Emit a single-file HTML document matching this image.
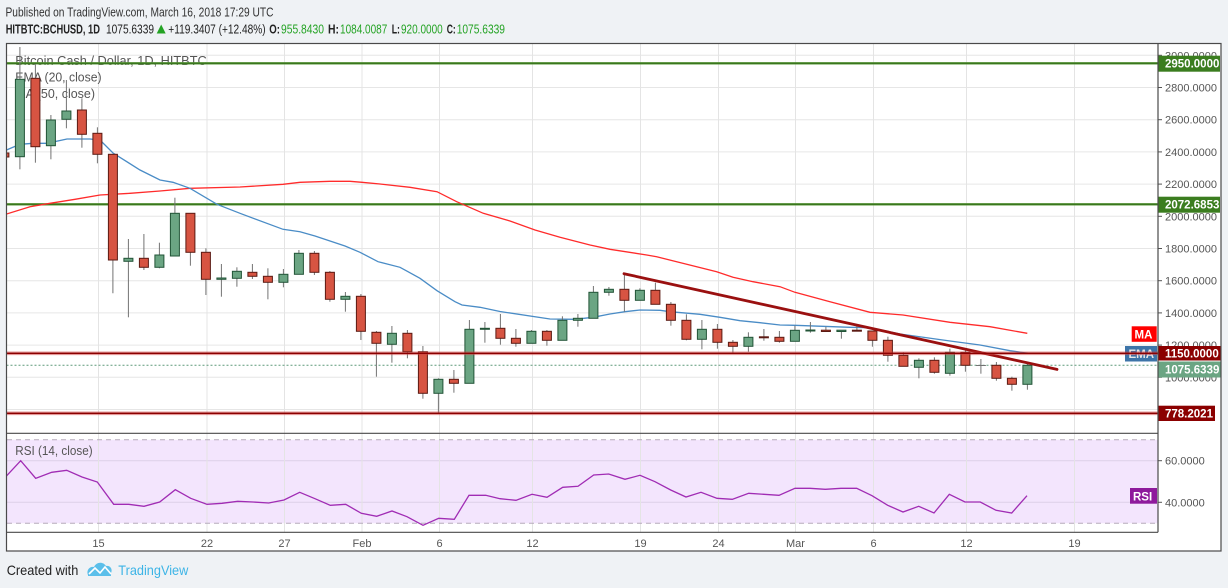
<!DOCTYPE html>
<html><head><meta charset="utf-8"><style>
html,body{margin:0;padding:0;background:#eff2f5;}
svg{display:block;}
text{font-family:"Liberation Sans",sans-serif;}
</style></head><body>
<svg width="1228" height="588" viewBox="0 0 1228 588" xmlns="http://www.w3.org/2000/svg">
<rect x="0" y="0" width="1228" height="588" fill="#eff2f5"/>
<!-- header -->
<text x="5.5" y="16.5" font-size="13" fill="#333" textLength="268" lengthAdjust="spacingAndGlyphs">Published on TradingView.com, March 16, 2018 17:29 UTC</text>
<g font-size="13">
<text x="5.7" y="33.5" font-weight="bold" fill="#222" textLength="94.3" lengthAdjust="spacingAndGlyphs">HITBTC:BCHUSD, 1D</text>
<text x="106" y="33.5" fill="#222" textLength="48" lengthAdjust="spacingAndGlyphs">1075.6339</text>
<polygon points="156.7,33.5 165.7,33.5 161.2,24.5" fill="#24a324"/>
<text x="168.3" y="33.5" fill="#222" textLength="97.4" lengthAdjust="spacingAndGlyphs">+119.3407 (+12.48%)</text>
<text x="269.3" y="33.5" font-weight="bold" fill="#222" textLength="10.7" lengthAdjust="spacingAndGlyphs">O:</text>
<text x="281" y="33.5" fill="#24a324" textLength="43" lengthAdjust="spacingAndGlyphs">955.8430</text>
<text x="328" y="33.5" font-weight="bold" fill="#222" textLength="11" lengthAdjust="spacingAndGlyphs">H:</text>
<text x="340" y="33.5" fill="#24a324" textLength="47.3" lengthAdjust="spacingAndGlyphs">1084.0087</text>
<text x="391.7" y="33.5" font-weight="bold" fill="#222" textLength="8.3" lengthAdjust="spacingAndGlyphs">L:</text>
<text x="401" y="33.5" fill="#24a324" textLength="41.7" lengthAdjust="spacingAndGlyphs">920.0000</text>
<text x="446.7" y="33.5" font-weight="bold" fill="#222" textLength="9" lengthAdjust="spacingAndGlyphs">C:</text>
<text x="456.7" y="33.5" fill="#24a324" textLength="48.3" lengthAdjust="spacingAndGlyphs">1075.6339</text>
</g>

<!-- chart area -->
<rect x="6.5" y="43.5" width="1214.5" height="507.5" fill="#fff"/>

<defs>
<clipPath id="mainclip"><rect x="6.5" y="43.5" width="1151.5" height="389.5"/></clipPath>
<clipPath id="rsiclip"><rect x="6.5" y="433.5" width="1151.5" height="99"/></clipPath>
</defs>

<!-- RSI fill -->
<rect x="7" y="439.8" width="1150.5" height="83.5" fill="#f3e5fd"/>

<!-- horizontal grid main -->
<g stroke="#e6e6e6" stroke-width="1">
<line x1="6.5" y1="55.3" x2="1158" y2="55.3"/>
<line x1="6.5" y1="87.5" x2="1158" y2="87.5"/>
<line x1="6.5" y1="119.7" x2="1158" y2="119.7"/>
<line x1="6.5" y1="151.9" x2="1158" y2="151.9"/>
<line x1="6.5" y1="184.1" x2="1158" y2="184.1"/>
<line x1="6.5" y1="216.3" x2="1158" y2="216.3"/>
<line x1="6.5" y1="248.5" x2="1158" y2="248.5"/>
<line x1="6.5" y1="280.7" x2="1158" y2="280.7"/>
<line x1="6.5" y1="312.9" x2="1158" y2="312.9"/>
<line x1="6.5" y1="345.1" x2="1158" y2="345.1"/>
<line x1="6.5" y1="377.3" x2="1158" y2="377.3"/>
<line x1="6.5" y1="409.5" x2="1158" y2="409.5"/>
</g>
<!-- RSI grid -->
<g stroke="#ddd0e8" stroke-width="1">
<line x1="6.5" y1="460.7" x2="1158" y2="460.7"/>
<line x1="6.5" y1="502.3" x2="1158" y2="502.3"/>
</g>
<!-- vertical grid -->
<g stroke="#e4e4e4" stroke-width="1">
<line x1="98.5" y1="43.5" x2="98.5" y2="532.5"/>
<line x1="207" y1="43.5" x2="207" y2="532.5"/>
<line x1="284.5" y1="43.5" x2="284.5" y2="532.5"/>
<line x1="362" y1="43.5" x2="362" y2="532.5"/>
<line x1="439.5" y1="43.5" x2="439.5" y2="532.5"/>
<line x1="532.5" y1="43.5" x2="532.5" y2="532.5"/>
<line x1="640.5" y1="43.5" x2="640.5" y2="532.5"/>
<line x1="718.5" y1="43.5" x2="718.5" y2="532.5"/>
<line x1="795.5" y1="43.5" x2="795.5" y2="532.5"/>
<line x1="873.5" y1="43.5" x2="873.5" y2="532.5"/>
<line x1="966.5" y1="43.5" x2="966.5" y2="532.5"/>
<line x1="1074.5" y1="43.5" x2="1074.5" y2="532.5"/>
</g>
<!-- RSI dashed bounds -->
<g stroke="#b5aabb" stroke-width="1" stroke-dasharray="5,4">
<line x1="7" y1="439.8" x2="1157.5" y2="439.8"/>
<line x1="7" y1="523.3" x2="1157.5" y2="523.3"/>
</g>

<!-- legend text -->
<g font-size="13" fill="#555">
<text x="15.3" y="65" textLength="191.4" lengthAdjust="spacingAndGlyphs">Bitcoin Cash / Dollar, 1D, HITBTC</text>
<text x="15.3" y="81.5" textLength="86.3" lengthAdjust="spacingAndGlyphs">EMA (20, close)</text>
<text x="15.3" y="98" textLength="79.7" lengthAdjust="spacingAndGlyphs">MA (50, close)</text>
<text x="15.3" y="455" textLength="77.3" lengthAdjust="spacingAndGlyphs">RSI (14, close)</text>
</g>

<g clip-path="url(#mainclip)">
<!-- horizontal level lines -->
<line x1="6.5" y1="63.3" x2="1158" y2="63.3" stroke="#5a9a3a" stroke-width="2.4"/>
<line x1="6.5" y1="63.3" x2="1158" y2="63.3" stroke="#2f6b14" stroke-width="1"/>
<line x1="6.5" y1="204.3" x2="1158" y2="204.3" stroke="#5a9a3a" stroke-width="2.4"/>
<line x1="6.5" y1="204.3" x2="1158" y2="204.3" stroke="#2f6b14" stroke-width="1"/>
<line x1="6.5" y1="365.3" x2="1158" y2="365.3" stroke="#5e9a7a" stroke-width="1" stroke-dasharray="2,2"/>

<!-- MA -->
<polyline fill="none" stroke="#ff2b2b" stroke-width="1.3" points="6.5,214 30,206.7 50,203.3 75,199.3 100,195 130,193.3 160,191 190,188.3 240,187 283,184.3 300,182.3 330,181.3 350,181.3 362,182.3 380,184 410,187.3 437,191.7 456.7,201.7 483.3,213.3 510,221 535,230 560,237.3 590,245 610,249.3 646.7,255 656.7,256.7 686.7,264.3 716.7,271.7 733,277.3 753,281.7 780,286.7 795,292.3 830,301.7 870,312.3 903,315 950,322.3 990,326.7 1027.3,333.3"/>
<!-- EMA -->
<polyline fill="none" stroke="#4a8cc6" stroke-width="1.3" points="6.5,150 20,144.3 33,143.3 47,143.3 67,139 90,139 100,140 113,153 140,170 160,180 173,182.3 190,188.3 217,204.3 240,213.3 283,229.3 300,231.7 315,236 345,246 360,252.3 378,261.7 400,267.3 408,271.7 420,278.3 437,290.7 455,301.7 462,305 480,307.3 500,311.5 550,319 575,319.3 593,317.3 610,314 625,311.7 640,310 660,310.3 670,311.7 700,314.3 720,317.3 740,320.7 760,322.7 780,325 795,325.3 850,327.3 870,327.7 900,334 950,341 980,345 1010,350.7 1028,353.3"/>

<!-- candles -->
<g transform="translate(-0.6,0)">
<g stroke="#737373" stroke-width="1">
<line x1="5" y1="150" x2="5" y2="160"/>
<line x1="20.5" y1="47" x2="20.5" y2="169.3"/>
<line x1="36" y1="64" x2="36" y2="162.7"/>
<line x1="51.5" y1="115" x2="51.5" y2="159.3"/>
<line x1="67" y1="80" x2="67" y2="128.3"/>
<line x1="82.5" y1="98.3" x2="82.5" y2="147.7"/>
<line x1="98" y1="127.3" x2="98" y2="163.3"/>
<line x1="113.5" y1="154.3" x2="113.5" y2="293.3"/>
<line x1="129" y1="239" x2="129" y2="317.3"/>
<line x1="144.5" y1="234" x2="144.5" y2="270"/>
<line x1="160" y1="242.7" x2="160" y2="268.3"/>
<line x1="175.5" y1="197.7" x2="175.5" y2="256"/>
<line x1="191" y1="213.3" x2="191" y2="265.7"/>
<line x1="206.5" y1="248.3" x2="206.5" y2="295"/>
<line x1="222" y1="264" x2="222" y2="296.7"/>
<line x1="237.5" y1="267.3" x2="237.5" y2="286.7"/>
<line x1="253" y1="264" x2="253" y2="279"/>
<line x1="268.5" y1="268.3" x2="268.5" y2="299.3"/>
<line x1="284" y1="269" x2="284" y2="287.3"/>
<line x1="299.5" y1="250" x2="299.5" y2="274.3"/>
<line x1="315" y1="251" x2="315" y2="275"/>
<line x1="330.5" y1="271" x2="330.5" y2="301.7"/>
<line x1="346" y1="292" x2="346" y2="311.7"/>
<line x1="361.5" y1="294" x2="361.5" y2="340"/>
<line x1="377" y1="331" x2="377" y2="376.7"/>
<line x1="392.5" y1="326" x2="392.5" y2="362.7"/>
<line x1="408" y1="330" x2="408" y2="358.3"/>
<line x1="423.5" y1="346" x2="423.5" y2="398.7"/>
<line x1="439" y1="378.3" x2="439" y2="413.3"/>
<line x1="454.5" y1="370" x2="454.5" y2="392.7"/>
<line x1="470" y1="320" x2="470" y2="383.3"/>
<line x1="485.5" y1="322" x2="485.5" y2="342.7"/>
<line x1="501" y1="314" x2="501" y2="344.7"/>
<line x1="516.5" y1="329" x2="516.5" y2="346.7"/>
<line x1="532" y1="330" x2="532" y2="343.3"/>
<line x1="547.5" y1="330" x2="547.5" y2="345.7"/>
<line x1="563" y1="316.3" x2="563" y2="340.3"/>
<line x1="578.5" y1="314" x2="578.5" y2="326.7"/>
<line x1="594" y1="286" x2="594" y2="318.3"/>
<line x1="609.5" y1="287" x2="609.5" y2="295.7"/>
<line x1="625" y1="273.3" x2="625" y2="311.7"/>
<line x1="640.5" y1="288.3" x2="640.5" y2="300.3"/>
<line x1="656" y1="282.7" x2="656" y2="304.3"/>
<line x1="671.5" y1="302" x2="671.5" y2="325.7"/>
<line x1="687" y1="314.3" x2="687" y2="340.3"/>
<line x1="702.5" y1="320" x2="702.5" y2="349.3"/>
<line x1="718" y1="324" x2="718" y2="348.7"/>
<line x1="733.5" y1="340" x2="733.5" y2="352.7"/>
<line x1="749" y1="332.3" x2="749" y2="351.7"/>
<line x1="764.5" y1="329" x2="764.5" y2="340.7"/>
<line x1="780" y1="331" x2="780" y2="342.7"/>
<line x1="795.5" y1="325.7" x2="795.5" y2="341.3"/>
<line x1="811" y1="322" x2="811" y2="332.7"/>
<line x1="826.5" y1="326.7" x2="826.5" y2="331.7"/>
<line x1="842" y1="330" x2="842" y2="338.7"/>
<line x1="857.5" y1="326" x2="857.5" y2="331"/>
<line x1="873" y1="331" x2="873" y2="346.7"/>
<line x1="888.5" y1="336.7" x2="888.5" y2="361.7"/>
<line x1="904" y1="352.3" x2="904" y2="366.3"/>
<line x1="919.5" y1="358.3" x2="919.5" y2="378.3"/>
<line x1="935" y1="357.3" x2="935" y2="373.7"/>
<line x1="950.5" y1="348.7" x2="950.5" y2="375.7"/>
<line x1="966" y1="349.3" x2="966" y2="371.7"/>
<line x1="981.5" y1="359" x2="981.5" y2="373.7"/>
<line x1="997" y1="362" x2="997" y2="380.7"/>
<line x1="1012.5" y1="376.7" x2="1012.5" y2="390.7"/>
<line x1="1028" y1="363.3" x2="1028" y2="389.7"/>
</g>
<!-- red bodies -->
<g fill="#d75442" stroke="#5b1a13" stroke-width="1">
<rect x="0.5" y="153" width="9" height="4"/>
<rect x="31.5" y="78.3" width="9" height="68.4"/>
<rect x="78" y="110" width="9" height="24.3"/>
<rect x="93.5" y="133.3" width="9" height="21"/>
<rect x="109" y="154.3" width="9" height="105.7"/>
<rect x="140" y="258.3" width="9" height="9"/>
<rect x="186.5" y="213.3" width="9" height="39"/>
<rect x="202" y="252.3" width="9" height="27"/>
<rect x="248.5" y="272.3" width="9" height="4"/>
<rect x="264" y="276.3" width="9" height="6"/>
<rect x="310.5" y="253.3" width="9" height="19"/>
<rect x="326" y="272.3" width="9" height="27"/>
<rect x="357" y="296.3" width="9" height="35"/>
<rect x="372.5" y="332.3" width="9" height="11"/>
<rect x="403.5" y="333.3" width="9" height="18.4"/>
<rect x="419" y="351.7" width="9" height="41.6"/>
<rect x="450" y="379.3" width="9" height="4"/>
<rect x="496.5" y="328.3" width="9" height="10"/>
<rect x="512" y="338.3" width="9" height="5"/>
<rect x="543" y="331.3" width="9" height="9"/>
<rect x="620.5" y="289.3" width="9" height="11"/>
<rect x="651.5" y="290.3" width="9" height="14"/>
<rect x="667" y="304.3" width="9" height="16"/>
<rect x="682.5" y="320.3" width="9" height="19"/>
<rect x="713.5" y="329.3" width="9" height="13"/>
<rect x="729" y="342.3" width="9" height="4"/>
<rect x="760" y="336.8" width="9" height="1"/>
<rect x="775.5" y="337.3" width="9" height="4"/>
<rect x="822" y="330.2" width="9" height="1.3"/>
<rect x="853" y="330.2" width="9" height="1"/>
<rect x="868.5" y="331" width="9" height="9.3"/>
<rect x="884" y="340.3" width="9" height="15"/>
<rect x="899.5" y="355.3" width="9" height="11"/>
<rect x="930.5" y="360.3" width="9" height="12"/>
<rect x="961.5" y="352.3" width="9" height="13"/>
<rect x="992.5" y="365.3" width="9" height="13"/>
<rect x="1008" y="378.3" width="9" height="6"/>
</g>
<!-- green bodies -->
<g fill="#6ba583" stroke="#225437" stroke-width="1">
<rect x="16" y="79.3" width="9" height="77.4"/>
<rect x="47" y="120" width="9" height="25.7"/>
<rect x="62.5" y="111" width="9" height="8.3"/>
<rect x="124.5" y="258.3" width="9" height="3"/>
<rect x="155.5" y="255" width="9" height="12.3"/>
<rect x="171" y="213.3" width="9" height="42.7"/>
<rect x="217.5" y="278" width="9" height="1.3"/>
<rect x="233" y="271.3" width="9" height="7"/>
<rect x="279.5" y="274.3" width="9" height="8"/>
<rect x="295" y="253.3" width="9" height="21"/>
<rect x="341.5" y="296.3" width="9" height="3"/>
<rect x="388" y="333.3" width="9" height="11"/>
<rect x="434.5" y="379.3" width="9" height="14"/>
<rect x="465.5" y="329.3" width="9" height="54"/>
<rect x="481" y="328.3" width="9" height="1"/>
<rect x="527.5" y="331.3" width="9" height="12"/>
<rect x="558.5" y="320.3" width="9" height="20"/>
<rect x="574" y="318.3" width="9" height="2"/>
<rect x="589.5" y="292.3" width="9" height="26"/>
<rect x="605" y="289.3" width="9" height="3"/>
<rect x="636" y="290.3" width="9" height="10"/>
<rect x="698" y="329.3" width="9" height="10"/>
<rect x="744.5" y="337.3" width="9" height="9"/>
<rect x="791" y="330.3" width="9" height="11"/>
<rect x="806.5" y="330" width="9" height="1"/>
<rect x="837.5" y="330.2" width="9" height="1.3"/>
<rect x="915" y="360.3" width="9" height="7"/>
<rect x="946" y="352.3" width="9" height="21"/>
<rect x="1023.5" y="365.3" width="9" height="19"/>
</g>
<line x1="976.5" y1="365.5" x2="986.5" y2="365.5" stroke="#737373" stroke-width="1"/>
</g>

<!-- trendline -->
<line x1="624" y1="273.7" x2="1057" y2="369.4" stroke="#9a1010" stroke-width="2.8" stroke-linecap="round"/>
</g>

<!-- price axis tick labels -->
<g font-size="11" fill="#555">
<text x="1165" y="59.3">3000.0000</text>
<text x="1165" y="91.5">2800.0000</text>
<text x="1165" y="123.7">2600.0000</text>
<text x="1165" y="155.9">2400.0000</text>
<text x="1165" y="188.1">2200.0000</text>
<text x="1165" y="220.3">2000.0000</text>
<text x="1165" y="252.5">1800.0000</text>
<text x="1165" y="284.7">1600.0000</text>
<text x="1165" y="316.9">1400.0000</text>
<text x="1165" y="349.1">1200.0000</text>
<text x="1165" y="381.3">1000.0000</text>
<text x="1165" y="464.7">60.0000</text>
<text x="1165" y="506.3">40.0000</text>
</g>
<g stroke="#555" stroke-width="1">
<line x1="1158" y1="55.3" x2="1162" y2="55.3"/>
<line x1="1158" y1="87.5" x2="1162" y2="87.5"/>
<line x1="1158" y1="119.7" x2="1162" y2="119.7"/>
<line x1="1158" y1="151.9" x2="1162" y2="151.9"/>
<line x1="1158" y1="184.1" x2="1162" y2="184.1"/>
<line x1="1158" y1="216.3" x2="1162" y2="216.3"/>
<line x1="1158" y1="248.5" x2="1162" y2="248.5"/>
<line x1="1158" y1="280.7" x2="1162" y2="280.7"/>
<line x1="1158" y1="312.9" x2="1162" y2="312.9"/>
<line x1="1158" y1="345.1" x2="1162" y2="345.1"/>
<line x1="1158" y1="377.3" x2="1162" y2="377.3"/>
<line x1="1158" y1="460.7" x2="1162" y2="460.7"/>
<line x1="1158" y1="502.3" x2="1162" y2="502.3"/>
</g>

<!-- price labels -->
<rect x="1158" y="55.7" width="62" height="16" fill="#3b7d1f"/>
<text x="1165" y="67.7" font-size="11.5" font-weight="bold" fill="#fff">2950.0000</text>
<rect x="1158" y="196.7" width="62" height="16" fill="#3b7d1f"/>
<text x="1165" y="208.7" font-size="11.5" font-weight="bold" fill="#fff">2072.6853</text>
<rect x="1131.7" y="326.3" width="25" height="15.5" fill="#ff0000"/>
<text x="1134.5" y="338.3" font-size="11.5" font-weight="bold" fill="#fff">MA</text>
<rect x="1125" y="346" width="32" height="15.5" fill="#3d74a8"/>
<text x="1128.5" y="358" font-size="11.5" font-weight="bold" fill="#e8e8e8">EMA</text>
<rect x="1158" y="346" width="62.5" height="14.5" fill="#8b0000"/>
<text x="1165" y="357.5" font-size="11.5" font-weight="bold" fill="#fff">1150.0000</text>
<rect x="1158" y="361.5" width="62.5" height="16" fill="#6ba583"/>
<text x="1165" y="373.5" font-size="11.5" font-weight="bold" fill="#fff">1075.6339</text>
<rect x="1158" y="405.7" width="57" height="15.3" fill="#8b0000"/>
<text x="1165" y="417.5" font-size="11.5" font-weight="bold" fill="#fff">778.2021</text>

<!-- red horizontal lines (over EMA label) -->
<g>
<line x1="6.5" y1="353.3" x2="1158" y2="353.3" stroke="#c44" stroke-opacity="0.55" stroke-width="3.6"/>
<line x1="6.5" y1="353.3" x2="1158" y2="353.3" stroke="#8b0000" stroke-width="1.4"/>
<line x1="6.5" y1="413.3" x2="1158" y2="413.3" stroke="#c44" stroke-opacity="0.55" stroke-width="3.6"/>
<line x1="6.5" y1="413.3" x2="1158" y2="413.3" stroke="#8b0000" stroke-width="1.4"/>
</g>

<!-- RSI -->
<g clip-path="url(#rsiclip)">
<polyline fill="none" stroke="#a02cb4" stroke-width="1.3" points="5,477.5 20.7,460.7 35.7,478.3 51.7,472.3 66.7,470.3 82,477 97.3,482 113.7,504.3 128.7,504.3 144,506.3 159.7,502 175.3,489.7 190.7,498.3 207,504.3 222,503.3 237.7,501.3 253,502 268.7,503 284,500 299.7,492.3 315,498.7 330.3,505.3 345.7,504.3 361.3,513.3 376.7,516.3 392,511 407,516.7 423,525.3 438.7,518.3 454.3,519.3 469,495.3 485.7,495.3 500,498.7 516,500.3 532,494.3 547,497.3 562.7,487.3 578,486.3 593.7,475 608.7,474 625,479.3 640,475.3 655,481.7 670.7,490 686,497 701,492.3 717,498.3 732.3,499.3 748.7,493.3 764,494.3 779,495.3 795,488.3 810,488.3 825.3,489.3 841,488.3 856.7,488.3 872,495.7 887.7,505.3 903,512 918.7,506.3 934,513 949.3,494.3 965,502 980.3,502 996,510.3 1011.7,513 1027,495.7"/>
</g>
<rect x="1130" y="488" width="27" height="15.7" fill="#8e1a9c"/>
<text x="1133" y="500.5" font-size="11.5" font-weight="bold" fill="#fff">RSI</text>

<!-- time axis labels -->
<g font-size="11" fill="#555" text-anchor="middle">
<text x="98.5" y="547">15</text>
<text x="207" y="547">22</text>
<text x="284.5" y="547">27</text>
<text x="362" y="547">Feb</text>
<text x="439.5" y="547">6</text>
<text x="532.5" y="547">12</text>
<text x="640.5" y="547">19</text>
<text x="718.5" y="547">24</text>
<text x="795.5" y="547">Mar</text>
<text x="873.5" y="547">6</text>
<text x="966.5" y="547">12</text>
<text x="1074.5" y="547">19</text>
</g>

<!-- borders -->
<g stroke="#4a4a4a" stroke-width="1.2" fill="none">
<rect x="6.5" y="43.5" width="1214.5" height="507.5"/>
<line x1="6.5" y1="433.3" x2="1158" y2="433.3"/>
<line x1="6.5" y1="532.3" x2="1158" y2="532.3"/>
<line x1="1158" y1="43.5" x2="1158" y2="532.3"/>
</g>

<!-- footer -->
<text x="6.7" y="575" font-size="14" fill="#222" textLength="71.6" lengthAdjust="spacingAndGlyphs">Created with</text>
<g>
<path d="M88,575 C86,570 90,566 94,567 C96,562 103,561 106,566 C110,565 113,569 111,573 L111,576 L88,576 Z" fill="#5bbfea"/>
<polyline points="89,574 95,568 100,573 105,567 111,574" fill="none" stroke="#fff" stroke-width="1.6"/>
</g>
<text x="118.3" y="575" font-size="14" fill="#3cb4e6" textLength="70" lengthAdjust="spacingAndGlyphs">TradingView</text>
</svg>
</body></html>
